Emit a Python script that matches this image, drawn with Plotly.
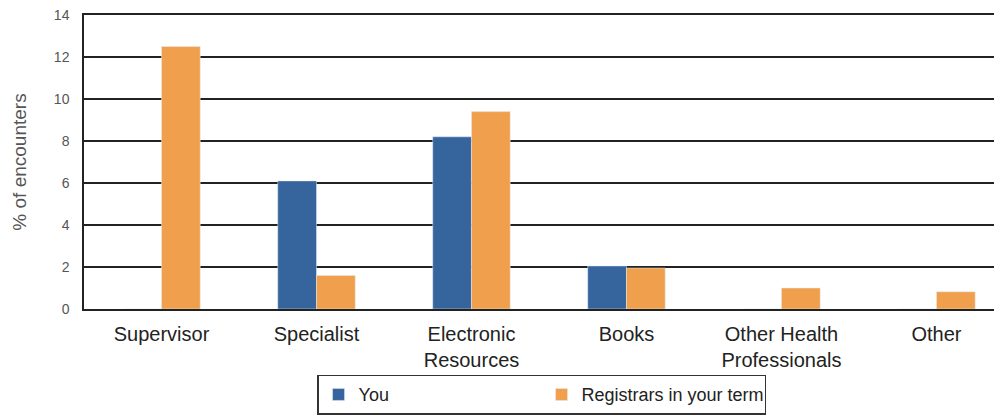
import plotly.graph_objects as go

categories = ["Supervisor", "Specialist", "Electronic<br>Resources", "Books", "Other Health<br>Professionals", "Other"]
you_values = [0, 6.1, 8.2, 2.05, 0, 0]
registrars_values = [12.5, 1.6, 9.4, 1.95, 1.0, 0.82]
y_ticks = [0, 2, 4, 6, 8, 10, 12, 14]

BLUE = "#35659C"
ORANGE = "#F0A04C"

fig = go.Figure()
fig.add_trace(go.Bar(x=list(range(len(categories))), y=you_values, name="You", marker_color=BLUE))
fig.add_trace(go.Bar(x=list(range(len(categories))), y=registrars_values, name="Registrars in your term", marker_color=ORANGE))

# page body has an 8px default margin, so the figure is 8px smaller than the window
fig.update_layout(
    width=994, height=408,
    margin=dict(l=76, r=2, t=7, b=107, autoexpand=False),
    paper_bgcolor="white", plot_bgcolor="white",
    barmode="group", bargap=0.5, bargroupgap=0,
    font=dict(family="Liberation Sans, Arial, sans-serif", color="#222"),
    legend=dict(
        orientation="h", x=0.2544, y=-0.2237, xanchor="left", yanchor="top",
        bordercolor="#333", borderwidth=1.5, font=dict(size=18, color="#222"),
        entrywidth=178, entrywidthmode="pixels",
    ),
)
fig.update_xaxes(
    tickmode="array", tickvals=list(range(len(categories))), ticktext=categories,
    range=[-0.5, 5.41], showline=True, mirror=True, linecolor="#222", linewidth=1.5,
    showgrid=False, tickfont=dict(size=20, color="#222"), ticks="", ticklabelstandoff=6,
    automargin=False, ticklabeloverflow="allow",
)
fig.update_yaxes(
    range=[0, 14], tickvals=y_ticks, showgrid=True, gridcolor="#222", gridwidth=1.5,
    showline=True, linecolor="#222", linewidth=1.5, zeroline=False,
    tickfont=dict(size=14, color="#555"), ticks="", ticklabelstandoff=10,
    title=dict(text="% of encounters", font=dict(size=19, color="#555"), standoff=22),
    automargin=False, ticklabeloverflow="allow",
)

fig.write_html("out.html")
